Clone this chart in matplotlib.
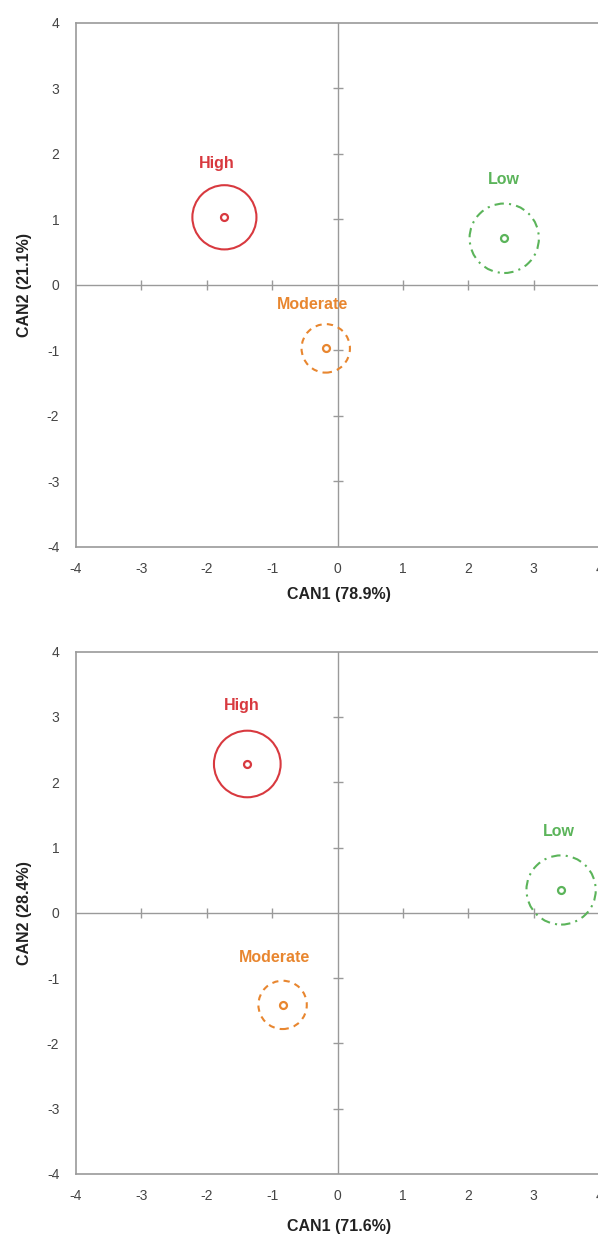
import matplotlib
matplotlib.use('Agg')
import matplotlib.pyplot as plt
from matplotlib.patches import Circle

plt.rcParams['font.family'] = ['Liberation Sans', 'DejaVu Sans']
plt.rcParams['axes.unicode_minus'] = False

# group data (canonical scores)
groups = ['High', 'Moderate', 'Low']
colors = ['#d8393f', '#e8862f', '#5bb45a']
styles = ['-', (0, (3, 2.5)), (0, (4.5, 2.5, 1, 2.5))]

top_x = [-1.73, -0.18, 2.55]
top_y = [1.03, -0.97, 0.71]
top_r = [0.49, 0.37, 0.53]
top_lab_x = [-1.84, -0.39, 2.55]
top_lab_y = [1.85, -0.30, 1.60]

bot_x = [-1.38, -0.84, 3.42]
bot_y = [2.28, -1.41, 0.35]
bot_r = [0.51, 0.37, 0.53]
bot_lab_x = [-1.47, -0.97, 3.39]
bot_lab_y = [3.17, -0.69, 1.24]

xlabels = ['CAN1 (78.9%)', 'CAN1 (71.6%)']
ylabels = ['CAN2 (21.1%)', 'CAN2 (28.4%)']

ticks = [-4, -3, -2, -1, 0, 1, 2, 3, 4]
gray = '#9a9a9a'

fig = plt.figure(figsize=(5.98, 12.38), dpi=100)
ax1 = fig.add_axes([0.1271, 0.5582, 0.8746, 0.4235])
ax2 = fig.add_axes([0.1271, 0.0517, 0.8746, 0.4219])

panels = [
    (ax1, top_x, top_y, top_r, top_lab_x, top_lab_y, xlabels[0], ylabels[0], 594),
    (ax2, bot_x, bot_y, bot_r, bot_lab_x, bot_lab_y, xlabels[1], ylabels[1], 1226),
]

for ax, xs, ys, rs, lx, ly, xl, yl, xl_px in panels:
    ax.set_xlim(-4, 4)
    ax.set_ylim(-4, 4)
    for s in ['left', 'top', 'bottom']:
        ax.spines[s].set_color(gray)
        ax.spines[s].set_linewidth(1.2)
    ax.spines['right'].set_visible(False)
    ax.set_xticks(ticks)
    ax.set_yticks(ticks)
    ax.tick_params(length=0, labelsize=10, labelcolor='#444444')
    ax.tick_params(axis='y', pad=12)
    ax.tick_params(axis='x', pad=11)

    # centre cross with small ticks
    ax.axhline(0, color=gray, lw=1.0, zorder=1)
    ax.axvline(0, color=gray, lw=1.0, zorder=1)
    inner = [t for t in ticks if t not in (-4, 0, 4)]
    ax.plot(inner, [0] * len(inner), ls='none', marker='|', ms=7, mew=1.0, color=gray, zorder=1)
    ax.plot([0] * len(inner), inner, ls='none', marker='_', ms=7, mew=1.0, color=gray, zorder=1)

    for i, g in enumerate(groups):
        ax.add_patch(Circle((xs[i], ys[i]), rs[i], fill=False, edgecolor=colors[i],
                            lw=1.5, linestyle=styles[i], zorder=3))
        ax.plot(xs[i], ys[i], marker='o', ms=5, mfc='white', mec=colors[i], mew=1.6, zorder=4)
        ax.text(lx[i], ly[i], g, color=colors[i], fontsize=11.5, fontweight='bold',
                ha='center', va='center', zorder=4)

    ax.text(-0.099, 0.5, yl, transform=ax.transAxes, rotation=90,
            ha='center', va='center', fontsize=11.5, fontweight='bold', color='#222222')
    fig.text(339 / 598, 1 - xl_px / 1238, xl, ha='center', va='center',
             fontsize=11.5, fontweight='bold', color='#222222')

fig.savefig('out.png', dpi=100)
